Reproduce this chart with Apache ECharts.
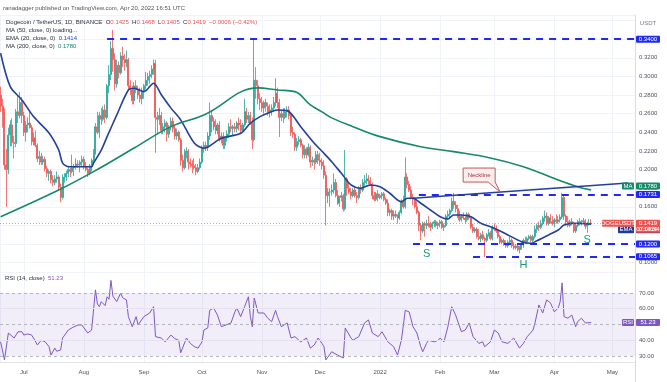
<!DOCTYPE html>
<html><head><meta charset="utf-8">
<script src="https://cdn.jsdelivr.net/npm/echarts@6/dist/echarts.min.js"></script>
<style>html,body{margin:0;padding:0;background:#fff}#c{width:667px;height:382px}</style>
</head><body><div id="c"></div><script>
// ---------- DATA ----------
const startDate = [2021, 5, 19]; // first candle: 2021-06-19, one candle per day
// daily candles [open, high, low, close]
const ohlc = [
// Jun 19-30
[0.280,0.289,0.262,0.268],[0.268,0.276,0.245,0.262],[0.262,0.266,0.200,0.205],[0.205,0.222,0.160,0.200],[0.200,0.245,0.195,0.237],[0.237,0.253,0.225,0.248],
[0.248,0.255,0.225,0.229],[0.229,0.236,0.212,0.228],[0.228,0.265,0.224,0.262],[0.262,0.280,0.250,0.258],[0.258,0.283,0.255,0.272],[0.272,0.278,0.250,0.258],
// Jul
[0.258,0.262,0.236,0.240],[0.240,0.252,0.230,0.248],[0.248,0.256,0.240,0.250],[0.250,0.262,0.244,0.245],[0.245,0.248,0.226,0.230],[0.230,0.240,0.226,0.234],
[0.234,0.242,0.224,0.226],[0.226,0.228,0.208,0.212],[0.212,0.220,0.205,0.214],[0.214,0.218,0.205,0.208],[0.208,0.215,0.205,0.211],[0.211,0.214,0.198,0.201],
[0.201,0.204,0.192,0.196],[0.196,0.200,0.188,0.198],[0.198,0.200,0.185,0.189],[0.189,0.194,0.182,0.186],[0.186,0.194,0.183,0.190],[0.190,0.198,0.186,0.192],
[0.192,0.194,0.178,0.181],[0.181,0.185,0.165,0.170],[0.170,0.195,0.168,0.190],[0.190,0.196,0.186,0.192],[0.192,0.199,0.188,0.196],[0.196,0.204,0.192,0.200],
[0.200,0.202,0.192,0.198],[0.198,0.216,0.196,0.202],[0.202,0.206,0.193,0.203],[0.203,0.212,0.200,0.206],[0.206,0.210,0.202,0.205],[0.205,0.210,0.197,0.208],
[0.208,0.215,0.203,0.211],
// Aug
[0.211,0.214,0.200,0.203],[0.203,0.208,0.198,0.200],[0.200,0.202,0.192,0.196],[0.196,0.206,0.194,0.204],[0.204,0.212,0.198,0.210],[0.210,0.222,0.206,0.218],
[0.218,0.250,0.216,0.246],[0.246,0.262,0.238,0.240],[0.240,0.262,0.234,0.258],[0.258,0.266,0.248,0.254],[0.254,0.268,0.252,0.264],[0.264,0.270,0.250,0.256],
[0.256,0.292,0.254,0.290],[0.290,0.312,0.282,0.302],[0.302,0.338,0.296,0.330],[0.330,0.350,0.305,0.318],[0.318,0.325,0.285,0.292],[0.292,0.318,0.288,0.312],
[0.312,0.316,0.298,0.304],[0.304,0.326,0.302,0.322],[0.322,0.332,0.310,0.318],[0.318,0.324,0.306,0.315],[0.315,0.328,0.310,0.318],[0.318,0.320,0.285,0.290],
[0.290,0.296,0.280,0.286],[0.286,0.290,0.270,0.274],[0.274,0.294,0.270,0.290],[0.290,0.296,0.282,0.286],[0.286,0.290,0.276,0.280],[0.280,0.288,0.272,0.276],
[0.276,0.288,0.270,0.284],
// Sep
[0.284,0.292,0.276,0.290],[0.290,0.305,0.286,0.296],[0.296,0.304,0.290,0.300],[0.300,0.306,0.292,0.302],[0.302,0.312,0.298,0.308],[0.308,0.318,0.302,0.314],
[0.314,0.318,0.218,0.256],[0.256,0.262,0.238,0.254],[0.254,0.266,0.248,0.258],[0.258,0.262,0.238,0.242],[0.242,0.250,0.238,0.246],[0.246,0.254,0.240,0.250],
[0.250,0.252,0.230,0.238],[0.238,0.248,0.234,0.246],[0.246,0.256,0.242,0.252],[0.252,0.256,0.240,0.244],[0.244,0.248,0.232,0.236],[0.236,0.244,0.232,0.240],
[0.240,0.242,0.230,0.232],[0.232,0.234,0.204,0.210],[0.210,0.216,0.198,0.202],[0.202,0.222,0.200,0.218],[0.218,0.224,0.212,0.220],[0.220,0.222,0.200,0.208],
[0.208,0.212,0.202,0.206],[0.206,0.210,0.196,0.204],[0.204,0.212,0.200,0.202],[0.202,0.206,0.194,0.198],[0.198,0.206,0.196,0.202],[0.202,0.212,0.200,0.208],
// Oct
[0.208,0.226,0.206,0.224],[0.224,0.230,0.218,0.226],[0.226,0.230,0.220,0.224],[0.224,0.240,0.220,0.236],[0.236,0.272,0.232,0.258],[0.258,0.264,0.240,0.252],
[0.252,0.256,0.242,0.246],[0.246,0.254,0.238,0.242],[0.242,0.250,0.238,0.248],[0.248,0.252,0.230,0.232],[0.232,0.240,0.228,0.236],[0.236,0.240,0.222,0.226],
[0.226,0.236,0.222,0.234],[0.234,0.242,0.230,0.238],[0.238,0.250,0.234,0.246],[0.246,0.254,0.240,0.244],[0.244,0.248,0.236,0.246],[0.246,0.250,0.240,0.244],
[0.244,0.252,0.240,0.250],[0.250,0.256,0.242,0.248],[0.248,0.254,0.238,0.242],[0.242,0.250,0.240,0.248],[0.248,0.276,0.246,0.262],[0.262,0.266,0.250,0.254],
[0.254,0.262,0.250,0.258],[0.258,0.262,0.248,0.250],[0.250,0.256,0.222,0.232],[0.232,0.339,0.230,0.296],[0.296,0.310,0.276,0.290],[0.290,0.296,0.270,0.276],
[0.276,0.282,0.264,0.272],
// Nov
[0.272,0.278,0.262,0.266],[0.266,0.274,0.260,0.272],[0.272,0.276,0.262,0.268],[0.268,0.272,0.258,0.262],[0.262,0.270,0.256,0.264],[0.264,0.270,0.258,0.266],
[0.266,0.278,0.262,0.272],[0.272,0.298,0.268,0.282],[0.282,0.288,0.266,0.272],[0.272,0.276,0.235,0.256],[0.256,0.264,0.252,0.260],[0.260,0.266,0.250,0.256],
[0.256,0.266,0.254,0.262],[0.262,0.268,0.256,0.264],[0.264,0.268,0.254,0.258],[0.258,0.260,0.236,0.240],[0.240,0.246,0.234,0.238],[0.238,0.240,0.220,0.224],
[0.224,0.234,0.220,0.230],[0.230,0.236,0.226,0.232],[0.232,0.234,0.224,0.226],[0.226,0.228,0.212,0.216],[0.216,0.226,0.212,0.222],[0.222,0.224,0.212,0.216],
[0.216,0.228,0.214,0.224],[0.224,0.226,0.202,0.208],[0.208,0.214,0.204,0.210],[0.210,0.212,0.200,0.208],[0.208,0.220,0.206,0.216],[0.216,0.220,0.206,0.210],
// Dec
[0.210,0.218,0.204,0.208],[0.208,0.212,0.200,0.204],[0.204,0.210,0.190,0.194],[0.194,0.198,0.140,0.172],[0.172,0.180,0.164,0.176],[0.176,0.180,0.160,0.176],
[0.176,0.184,0.172,0.178],[0.178,0.196,0.174,0.186],[0.186,0.190,0.170,0.172],[0.172,0.178,0.162,0.164],[0.164,0.172,0.160,0.170],[0.170,0.176,0.166,0.172],
[0.172,0.174,0.155,0.158],[0.158,0.221,0.156,0.190],[0.190,0.192,0.172,0.180],[0.180,0.186,0.174,0.176],[0.176,0.180,0.168,0.172],[0.172,0.180,0.170,0.178],
[0.178,0.182,0.170,0.172],[0.172,0.176,0.164,0.170],[0.170,0.182,0.168,0.180],[0.180,0.184,0.174,0.178],[0.178,0.190,0.176,0.186],[0.186,0.194,0.182,0.188],
[0.188,0.196,0.184,0.190],[0.190,0.194,0.184,0.188],[0.188,0.192,0.182,0.184],[0.184,0.186,0.168,0.172],[0.172,0.176,0.166,0.168],[0.168,0.176,0.166,0.174],
[0.174,0.178,0.166,0.170],
// Jan 2022
[0.170,0.174,0.168,0.172],[0.172,0.176,0.168,0.174],[0.174,0.176,0.166,0.168],[0.168,0.170,0.162,0.164],[0.164,0.168,0.150,0.154],[0.154,0.158,0.150,0.156],
[0.156,0.158,0.146,0.150],[0.150,0.156,0.146,0.152],[0.152,0.156,0.148,0.150],[0.150,0.152,0.142,0.148],[0.148,0.156,0.146,0.154],[0.154,0.168,0.152,0.166],
[0.166,0.172,0.158,0.160],[0.160,0.213,0.158,0.192],[0.192,0.196,0.180,0.184],[0.184,0.188,0.176,0.178],[0.178,0.182,0.168,0.170],[0.170,0.174,0.162,0.168],
[0.168,0.170,0.158,0.160],[0.160,0.166,0.152,0.154],[0.154,0.156,0.134,0.140],[0.140,0.142,0.124,0.134],[0.134,0.144,0.132,0.142],[0.142,0.144,0.128,0.140],
[0.140,0.146,0.136,0.142],[0.142,0.150,0.138,0.140],[0.140,0.144,0.134,0.138],[0.138,0.144,0.136,0.142],[0.142,0.146,0.138,0.144],[0.144,0.146,0.138,0.140],
[0.140,0.144,0.136,0.142],
// Feb
[0.142,0.146,0.138,0.144],[0.144,0.146,0.136,0.138],[0.138,0.142,0.134,0.140],[0.140,0.152,0.138,0.150],[0.150,0.156,0.146,0.152],[0.152,0.158,0.148,0.156],
[0.156,0.170,0.154,0.166],[0.166,0.175,0.158,0.162],[0.162,0.166,0.154,0.158],[0.158,0.162,0.148,0.150],[0.150,0.156,0.144,0.146],[0.146,0.152,0.144,0.150],
[0.150,0.154,0.146,0.148],[0.148,0.150,0.142,0.146],[0.146,0.154,0.144,0.152],[0.152,0.154,0.146,0.148],[0.148,0.150,0.136,0.138],[0.138,0.142,0.132,0.134],
[0.134,0.138,0.132,0.136],[0.136,0.138,0.126,0.128],[0.128,0.136,0.124,0.126],[0.126,0.132,0.122,0.130],[0.130,0.134,0.124,0.126],[0.126,0.128,0.106,0.124],
[0.124,0.132,0.122,0.130],[0.130,0.136,0.128,0.132],[0.132,0.134,0.124,0.126],[0.126,0.140,0.124,0.138],
// Mar
[0.138,0.142,0.134,0.136],[0.136,0.140,0.132,0.134],[0.134,0.136,0.126,0.128],[0.128,0.130,0.120,0.122],[0.122,0.126,0.120,0.124],[0.124,0.126,0.118,0.120],
[0.120,0.124,0.116,0.118],[0.118,0.124,0.116,0.122],[0.122,0.128,0.120,0.124],[0.124,0.126,0.116,0.118],[0.118,0.122,0.114,0.116],[0.116,0.120,0.114,0.118],
[0.118,0.120,0.112,0.114],[0.114,0.118,0.110,0.116],[0.116,0.122,0.114,0.120],[0.120,0.126,0.116,0.124],[0.124,0.128,0.120,0.122],[0.122,0.128,0.120,0.126],
[0.126,0.130,0.124,0.128],[0.128,0.130,0.122,0.124],[0.124,0.130,0.122,0.128],[0.128,0.140,0.126,0.136],[0.136,0.142,0.132,0.140],[0.140,0.144,0.134,0.138],
[0.138,0.146,0.136,0.142],[0.142,0.150,0.140,0.148],[0.148,0.156,0.144,0.150],[0.150,0.154,0.140,0.142],[0.142,0.150,0.140,0.148],[0.148,0.152,0.142,0.144],
[0.144,0.150,0.140,0.142],
// Apr 1-20
[0.142,0.148,0.138,0.146],[0.146,0.152,0.142,0.144],[0.144,0.150,0.142,0.146],[0.146,0.152,0.143,0.149],[0.149,0.175,0.147,0.170],[0.170,0.172,0.146,0.150],
[0.150,0.152,0.140,0.144],[0.144,0.150,0.138,0.140],[0.140,0.146,0.138,0.144],[0.144,0.148,0.140,0.142],[0.142,0.144,0.132,0.134],[0.134,0.142,0.132,0.140],
[0.140,0.146,0.138,0.144],[0.144,0.148,0.140,0.142],[0.142,0.146,0.140,0.144],[0.144,0.148,0.142,0.145],[0.145,0.147,0.136,0.139],[0.139,0.144,0.132,0.142],
[0.142,0.147,0.140,0.1425],[0.1425,0.1468,0.1405,0.1419]
];
// EMA(20): day index (from first candle) and value
const emaDays   = [0,5,11,17,25,30,32,35,43,47,48,52,55,60,66,69,74,79,83,88,93,100,105,114,124,129,134,140,143,148,155,162,167,171,176,181,186,191,196,201,207,210,213,217,222,227,231,234,238,243,248,255,262,269,274,277,283,288,291,296,305];
const emaValues = [0.325,0.289,0.2748,0.2569,0.2393,0.2211,0.2071,0.2031,0.2031,0.2031,0.207,0.221,0.2354,0.2587,0.2855,0.2874,0.2837,0.2927,0.2803,0.266,0.2534,0.2286,0.2229,0.2336,0.239,0.2498,0.2569,0.2622,0.264,0.2633,0.2461,0.2283,0.2175,0.2085,0.196,0.1835,0.18,0.1835,0.1816,0.1746,0.1655,0.1692,0.1692,0.1638,0.1566,0.1494,0.1469,0.1512,0.1512,0.1494,0.1423,0.137,0.1298,0.1226,0.1208,0.1236,0.1298,0.1351,0.1405,0.1423,0.1414];
// MA(200)
const maDays   = [0,30,48,69,88,105,133,143,152,160,166,171,182,196,217,234,253,270,288,298,305];
const maValues = [0.1494,0.1781,0.1978,0.2232,0.2461,0.2587,0.2877,0.2855,0.2837,0.2694,0.262,0.2555,0.2461,0.2354,0.2246,0.2193,0.2125,0.2031,0.1888,0.1816,0.178];
// RSI(14)
const rsiDays   = [0,2,4,7,9,11,12,14,16,17,19,21,23,25,26,28,29,31,32,35,37,40,42,45,47,48,49,50,51,52,54,55,56,57,58,60,62,63,65,66,68,70,71,74,77,79,80,83,85,88,90,92,93,96,98,100,102,104,105,107,108,110,112,114,115,117,119,121,122,124,126,128,129,130,131,133,136,138,140,142,143,145,148,150,152,155,158,160,162,164,166,167,168,171,174,177,178,181,182,185,188,190,192,195,197,200,203,205,207,209,211,213,215,217,218,220,221,224,226,227,229,231,233,235,238,240,242,244,245,247,249,250,253,255,257,259,262,265,268,270,272,275,276,278,280,282,284,286,288,289,290,291,293,295,297,298,300,302,303,305];
const rsiValues = [39,27.5,44.6,41.4,45.4,45.4,43.3,44,43.3,41.4,37,40,39,36,30.6,35,33,33.8,41.4,46.5,48,49.7,49.7,44.6,46.5,47,72,63,61.3,64.5,62,67.6,66,78,68,64.5,70,67,65.6,55,48.6,55,49.7,55,57.3,61.3,42.3,41.4,39,43.3,41,40,32,41.4,38,36,35,39,46.5,47.8,59,60.5,56,48.6,49.7,50,51,58,60.5,55,61.3,67.6,55,48.6,66.8,57.3,57.3,54,51.8,59,55,48.6,51,41.4,42.3,39,41.4,35,37,41.4,38,36,27.5,32.7,30.6,28.7,47.8,41.4,40,42.3,51,52.9,44.6,42.3,45.4,39,35.9,30.6,40,59,58,48.6,44.6,35.9,32.7,38,40,39,40,41.4,39,48.6,61.3,56,45.4,46.5,51,42.3,43.3,38,39,35.9,39,46.5,44.6,39,38,41.4,35,38,42.3,46.5,51,62.4,57.3,65.6,63.7,58,60.5,64.5,76.4,55,54,56,48.6,51.8,54,51,51.8,51.23];
// horizontal levels drawn on the chart (price, first day index)
const levelPrices = [0.34, 0.1731, 0.12, 0.1065];
const levelStart  = [55, 216, 213, 244];
const levelLabels = ['0.3400', '0.1731', '0.1200', '0.1065'];
// neckline (day index, price)
const necklineDays = [213, 324];
const necklinePrices = [0.1692, 0.1856];
// pattern letters
const patternText = ['S', 'H', 'S'];
const patternDays = [220, 270, 303];
const patternPrices = [0.1093, 0.0975, 0.1244];
const monthNames = ['Jan','Feb','Mar','Apr','May','Jun','Jul','Aug','Sep','Oct','Nov','Dec'];

// ---------- CHART ----------
const DAY = 86400000;
const T0 = Date.UTC(startDate[0], startDate[1], startDate[2]);
const ts = d => T0 + d * DAY;
const FONT = 'Liberation Sans, Arial, sans-serif';
const XMIN = ts(-0.31), XMAX = ts(327.65);
const UP = '#26a69a', DOWN = '#ef5350', LVL = '#2129f2';

const candles = ohlc.map((r, i) => [ts(i), r[0], r[3], r[2], r[1]]);
const last = ohlc[ohlc.length - 1][3];

const chart = echarts.init(document.getElementById('c'), null, {renderer: 'canvas'});
const xBase = {
  type: 'time', min: XMIN, max: XMAX,
  minInterval: 28 * DAY, maxInterval: 31 * DAY,
  splitLine: {show: true, lineStyle: {color: '#f0f3fa', width: 1}},
  axisTick: {show: false}
};
const option = {
  animation: false,
  useUTC: true,
  grid: [
    {left: 0, right: 32, top: 15, height: 257},
    {left: 0, right: 32, top: 272, height: 90}
  ],
  xAxis: [
    Object.assign({}, xBase, {gridIndex: 0, axisLine: {show: false}, axisLabel: {show: false}}),
    Object.assign({}, xBase, {gridIndex: 1, axisLine: {show: true, lineStyle: {color: '#e0e3eb'}},
      axisLabel: {show: true, fontSize: 6, color: '#4c525e', fontFamily: FONT, margin: 7,
        formatter: v => { const d = new Date(v); return d.getUTCMonth() === 0 ? String(d.getUTCFullYear()) : monthNames[d.getUTCMonth()]; }}})
  ],
  yAxis: [
    {gridIndex: 0, position: 'right', min: 0.09, max: 0.366, splitNumber: 14, scale: true,
      axisLine: {show: true, lineStyle: {color: '#d9dbe0'}}, axisTick: {show: false},
      splitLine: {show: true, lineStyle: {color: '#f0f3fa'}},
      axisLabel: {fontSize: 6, color: '#4c525e', fontFamily: FONT, margin: 4,
        formatter: v => { const r = Math.round(v * 100); if (Math.abs(v * 100 - r) > 1e-6 || r % 2 || r < 10 || r > 34) return ''; return v.toFixed(4); }}},
    {gridIndex: 1, position: 'right', min: 26.19, max: 83.33, splitNumber: 6,
      axisLine: {show: true, lineStyle: {color: '#d9dbe0'}}, axisTick: {show: false},
      splitLine: {show: false},
      axisLabel: {fontSize: 6, color: '#4c525e', fontFamily: FONT, margin: 4,
        formatter: v => (v >= 29.9 && v <= 70.1 && Math.abs(v - Math.round(v / 10) * 10) < 1e-6) ? v.toFixed(2) : ''}}
  ],
  series: [
    {type: 'candlestick', xAxisIndex: 0, yAxisIndex: 0, data: candles, barWidth: 1.5,
      itemStyle: {color: UP, color0: DOWN, borderColor: UP, borderColor0: DOWN, borderWidth: 0.8},
      markLine: {symbol: 'none', silent: true, label: {show: false},
        data: levelPrices.map((p, k) => [
          {coord: [ts(levelStart[k]), p], lineStyle: {color: LVL, width: 2, type: [7, 6]}},
          {coord: [XMAX, p]}
        ]).concat([
          [{coord: [XMIN, last], lineStyle: {color: DOWN, width: 1, type: [1, 2], opacity: 0.6}}, {coord: [XMAX, last]}],
          [{coord: [ts(necklineDays[0]), necklinePrices[0]], lineStyle: {color: '#253f98', width: 1.6, type: 'solid'}},
           {coord: [ts(necklineDays[1]), necklinePrices[1]]}]
        ])},
      markPoint: {symbol: 'circle', symbolSize: 0, silent: true,
        data: patternText.map((t, k) => ({coord: [ts(patternDays[k]), patternPrices[k]], value: t,
          label: {show: true, formatter: t, color: '#1a9a78', fontSize: 11, fontFamily: FONT, position: 'inside'}}))}
    },
    {type: 'line', xAxisIndex: 0, yAxisIndex: 0, data: emaDays.map((d, k) => [ts(d), emaValues[k]]),
      showSymbol: false, smooth: 0.3, lineStyle: {color: '#233f9a', width: 1.6}, z: 3},
    {type: 'line', xAxisIndex: 0, yAxisIndex: 0, data: maDays.map((d, k) => [ts(d), maValues[k]]),
      showSymbol: false, smooth: 0.4, lineStyle: {color: '#15896a', width: 1.6}, z: 3},
    {type: 'line', xAxisIndex: 1, yAxisIndex: 1, data: rsiDays.map((d, k) => [ts(d), rsiValues[k]]),
      showSymbol: false, lineStyle: {color: '#7e57c2', width: 1}, z: 3,
      markArea: {silent: true, itemStyle: {color: 'rgba(126,87,194,0.1)'}, data: [[{yAxis: 30}, {yAxis: 70}]]},
      markLine: {symbol: 'none', silent: true, label: {show: false},
        data: [
          {yAxis: 70, lineStyle: {color: '#a3a6af', type: [3, 3], width: 0.8}},
          {yAxis: 50, lineStyle: {color: '#a3a6af', type: [3, 3], width: 0.8}},
          {yAxis: 30, lineStyle: {color: '#a3a6af', type: [3, 3], width: 0.8}},
          {yAxis: 40, lineStyle: {color: '#e6e1f1', type: 'solid', width: 1}},
          {yAxis: 60, lineStyle: {color: '#e6e1f1', type: 'solid', width: 1}}
        ]}}
  ]
};
chart.setOption(option);

// ---------- labels placed through the scales ----------
const yP = v => chart.convertToPixel({yAxisIndex: 0}, v);
const yR = v => chart.convertToPixel({yAxisIndex: 1}, v);
const gx = chart.convertToPixel({xAxisIndex: 0}, XMAX);
function txt(x, y, text, fill, size, align) {
  return {type: 'text', x, y, z: 101, silent: true,
    style: {text, fill, fontSize: size || 6, fontFamily: FONT, align: align || 'left', verticalAlign: 'middle',
      textAlign: align || 'left', textVerticalAlign: 'middle'}};
}
function tag(x, yc, w, h, fill, text, lh) {
  return [
    {type: 'rect', z: 100, silent: true, shape: {x, y: yc - h / 2, width: w, height: h, r: 1}, style: {fill}},
    {type: 'text', x: x + w / 2, y: yc, z: 101, silent: true,
      style: {text, fill: '#fff', fontSize: 6, fontFamily: FONT, lineHeight: lh || 7, align: 'center', verticalAlign: 'middle',
        textAlign: 'center', textVerticalAlign: 'middle'}}
  ];
}
const G = [];
const AX = gx + 1;
// level labels
levelPrices.forEach((p, k) => G.push(...tag(AX, yP(p), 24, 7, LVL, levelLabels[k])));
// MA200
G.push(...tag(gx - 13, yP(maValues[maValues.length - 1]) - 4, 12, 7, '#15896a', 'MA'));
G.push(...tag(AX, yP(maValues[maValues.length - 1]) - 4, 24, 7, '#15896a', maValues[maValues.length - 1].toFixed(4)));
// EMA
G.push(...tag(gx - 17, yP(emaValues[emaValues.length - 1]) + 5.5, 16, 7, '#1f3a8f', 'EMA'));
G.push(...tag(AX, yP(emaValues[emaValues.length - 1]) + 5.5, 24, 7, '#1f3a8f', emaValues[emaValues.length - 1].toFixed(4)));
// last price
G.push(...tag(gx - 33, yP(last) - 0.5, 32, 7, '#ef5350', 'DOGEUSDT'));
G.push(...tag(AX, yP(last) + 2.5, 24, 13, '#ef5350', last.toFixed(4) + '\n07:08:54', 6.2));
// RSI
const rsiLast = rsiValues[rsiValues.length - 1];
G.push(...tag(gx - 13, yR(rsiLast), 12, 7, '#7e57c2', 'RSI'));
G.push(...tag(AX, yR(rsiLast), 24, 7, '#7e57c2', rsiLast.toFixed(2)));
// USDT
G.push(txt(AX + 12, 23, 'USDT', '#787b86', 6, 'center'));
// Neckline callout
const nk = chart.convertToPixel({xAxisIndex: 0, yAxisIndex: 0}, [ts(258), necklinePrices[0] + (necklinePrices[1] - necklinePrices[0]) * (258 - necklineDays[0]) / (necklineDays[1] - necklineDays[0])]);
const bx = nk[0] - 37, by = nk[1] - 24;
G.push({type: 'polygon', z: 99, silent: true,
  shape: {points: [[bx, by], [bx + 32, by], [bx + 32, by + 14], [nk[0], nk[1]], [bx + 25, by + 14], [bx, by + 14]]},
  style: {fill: '#fbeeee', stroke: '#c25a55', lineWidth: 1}});
G.push(txt(bx + 16, by + 7, 'Neckline', '#a33a36', 6, 'center'));
// axis divider under the time scale
G.push({type: 'line', z: 90, silent: true, shape: {x1: gx + 0.5, y1: 362, x2: gx + 0.5, y2: 382}, style: {stroke: '#d9dbe0', lineWidth: 1}});
// header
G.push(txt(3, 8, 'ranadagger published on TradingView.com, Apr 20, 2022 16:51 UTC', '#50535e', 6));
G.push({type: 'text', x: 6, y: 22, z: 101, silent: true, style: {
  text: '{g|Dogecoin / TetherUS, 1D, BINANCE  O}{r|0.1425}{g|  H}{r|0.1468}{g|  L}{r|0.1405}{g|  C}{r|0.1419}{r|  −0.0006 (−0.42%)}',
  fontSize: 6, fontFamily: FONT, verticalAlign: 'middle', textVerticalAlign: 'middle',
  rich: {g: {fill: '#2a2e39', color: '#2a2e39', fontSize: 6, fontFamily: FONT}, r: {fill: '#ef5350', color: '#ef5350', fontSize: 6, fontFamily: FONT}}}});
G.push(txt(6, 30.5, 'MA (50, close, 0) loading...', '#2a2e39', 6));
G.push({type: 'text', x: 6, y: 38.5, z: 101, silent: true, style: {
  text: '{g|EMA (20, close, 0)  }{b|0.1414}', fontSize: 6, fontFamily: FONT, verticalAlign: 'middle', textVerticalAlign: 'middle',
  rich: {g: {fill: '#2a2e39', color: '#2a2e39', fontSize: 6, fontFamily: FONT}, b: {fill: '#2348c9', color: '#2348c9', fontSize: 6, fontFamily: FONT}}}});
G.push({type: 'text', x: 6, y: 46.5, z: 101, silent: true, style: {
  text: '{g|MA (200, close, 0)  }{b|0.1780}', fontSize: 6, fontFamily: FONT, verticalAlign: 'middle', textVerticalAlign: 'middle',
  rich: {g: {fill: '#2a2e39', color: '#2a2e39', fontSize: 6, fontFamily: FONT}, b: {fill: '#15896a', color: '#15896a', fontSize: 6, fontFamily: FONT}}}});
G.push({type: 'text', x: 5, y: 278, z: 101, silent: true, style: {
  text: '{g|RSI (14, close)  }{b|51.23}', fontSize: 6, fontFamily: FONT, verticalAlign: 'middle', textVerticalAlign: 'middle',
  rich: {g: {fill: '#2a2e39', color: '#2a2e39', fontSize: 6, fontFamily: FONT}, b: {fill: '#7e57c2', color: '#7e57c2', fontSize: 6, fontFamily: FONT}}}});
chart.setOption({graphic: G});
</script></body></html>
